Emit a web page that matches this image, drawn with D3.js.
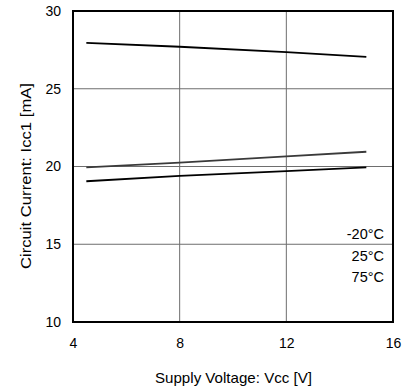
<!DOCTYPE html>
<html>
<head>
<meta charset="utf-8">
<script src="https://cdn.jsdelivr.net/npm/d3@7"></script>
<style>
  html, body { margin: 0; padding: 0; background: #fff; }
  svg { display: block; font-family: "Liberation Sans", Arial, sans-serif; }
</style>
</head>
<body>
<svg id="chart" width="416" height="389"></svg>
<script>
// Supply voltage sample points (V)
const voltages = [4.5, 8, 12, 15];
// Circuit current Icc1 (mA) per temperature
const currentMinus20 = [27.95, 27.7, 27.35, 27.05];
const current25 = [19.95, 20.25, 20.65, 20.95];
const current75 = [19.05, 19.4, 19.7, 19.95];
const seriesNames = ["-20°C", "25°C", "75°C"];
const xTicks = [4, 8, 12, 16];
const yTicks = [10, 15, 20, 25, 30];

const svg = d3.select("#chart");
const margin = { left: 73, right: 23, top: 11, bottom: 67 };
const W = 416, H = 389;
const FONT = "\"Liberation Sans\", Arial, sans-serif";

const x = d3.scaleLinear().domain([4, 16]).range([margin.left, W - margin.right]);
const y = d3.scaleLinear().domain([10, 30]).range([H - margin.bottom, margin.top]);

// grid lines
const grid = svg.append("g");
grid.selectAll("line.v").data(xTicks.slice(1, -1)).join("line")
  .attr("x1", d => x(d)).attr("x2", d => x(d))
  .attr("y1", y(30)).attr("y2", y(10))
  .attr("stroke", "#6e6e6e").attr("stroke-width", 1);
grid.selectAll("line.h").data(yTicks.slice(1, -1)).join("line")
  .attr("x1", x(4)).attr("x2", x(16))
  .attr("y1", d => y(d)).attr("y2", d => y(d))
  .attr("stroke", "#6e6e6e").attr("stroke-width", 1);

// axes (labels only; frame drawn separately)
const xAxis = svg.append("g")
  .attr("transform", `translate(0,${y(10)})`)
  .call(d3.axisBottom(x).tickValues(xTicks).tickSize(0).tickPadding(16));
const yAxis = svg.append("g")
  .attr("transform", `translate(${x(4)},0)`)
  .call(d3.axisLeft(y).tickValues(yTicks).tickSize(0).tickPadding(12));
[xAxis, yAxis].forEach(a => {
  a.select(".domain").remove();
  a.selectAll("text").attr("font-size", 14).attr("fill", "#000")
    .attr("font-family", FONT);
});

// data lines
const line = d3.line().x((d, i) => x(voltages[i])).y(d => y(d));
const series = [
  { values: currentMinus20, color: "#000", width: 1.8 },
  { values: current25, color: "#3a3a3a", width: 1.8 },
  { values: current75, color: "#000", width: 1.8 }
];
svg.append("g").selectAll("path").data(series).join("path")
  .attr("d", d => line(d.values))
  .attr("fill", "none")
  .attr("stroke", d => d.color)
  .attr("stroke-width", d => d.width);

// frame
svg.append("rect")
  .attr("x", x(4)).attr("y", y(30))
  .attr("width", x(16) - x(4)).attr("height", y(10) - y(30))
  .attr("fill", "none").attr("stroke", "#000").attr("stroke-width", 2);

// temperature labels
svg.append("g").selectAll("text").data(seriesNames).join("text")
  .attr("x", x(16) - 9)
  .attr("y", (d, i) => 239 + i * 21.5)
  .attr("text-anchor", "end")
  .attr("font-size", 14.5)
  .text(d => d);

// axis titles
svg.append("text")
  .attr("x", 233.5).attr("y", 383)
  .attr("text-anchor", "middle").attr("font-size", 15)
  .attr("textLength", 157).attr("lengthAdjust", "spacingAndGlyphs")
  .text("Supply Voltage: Vcc [V]");
svg.append("text")
  .attr("transform", `translate(31,176) rotate(-90)`)
  .attr("text-anchor", "middle").attr("font-size", 15.5)
  .attr("textLength", 186).attr("lengthAdjust", "spacingAndGlyphs")
  .text("Circuit Current: Icc1 [mA]");
</script>
</body>
</html>
